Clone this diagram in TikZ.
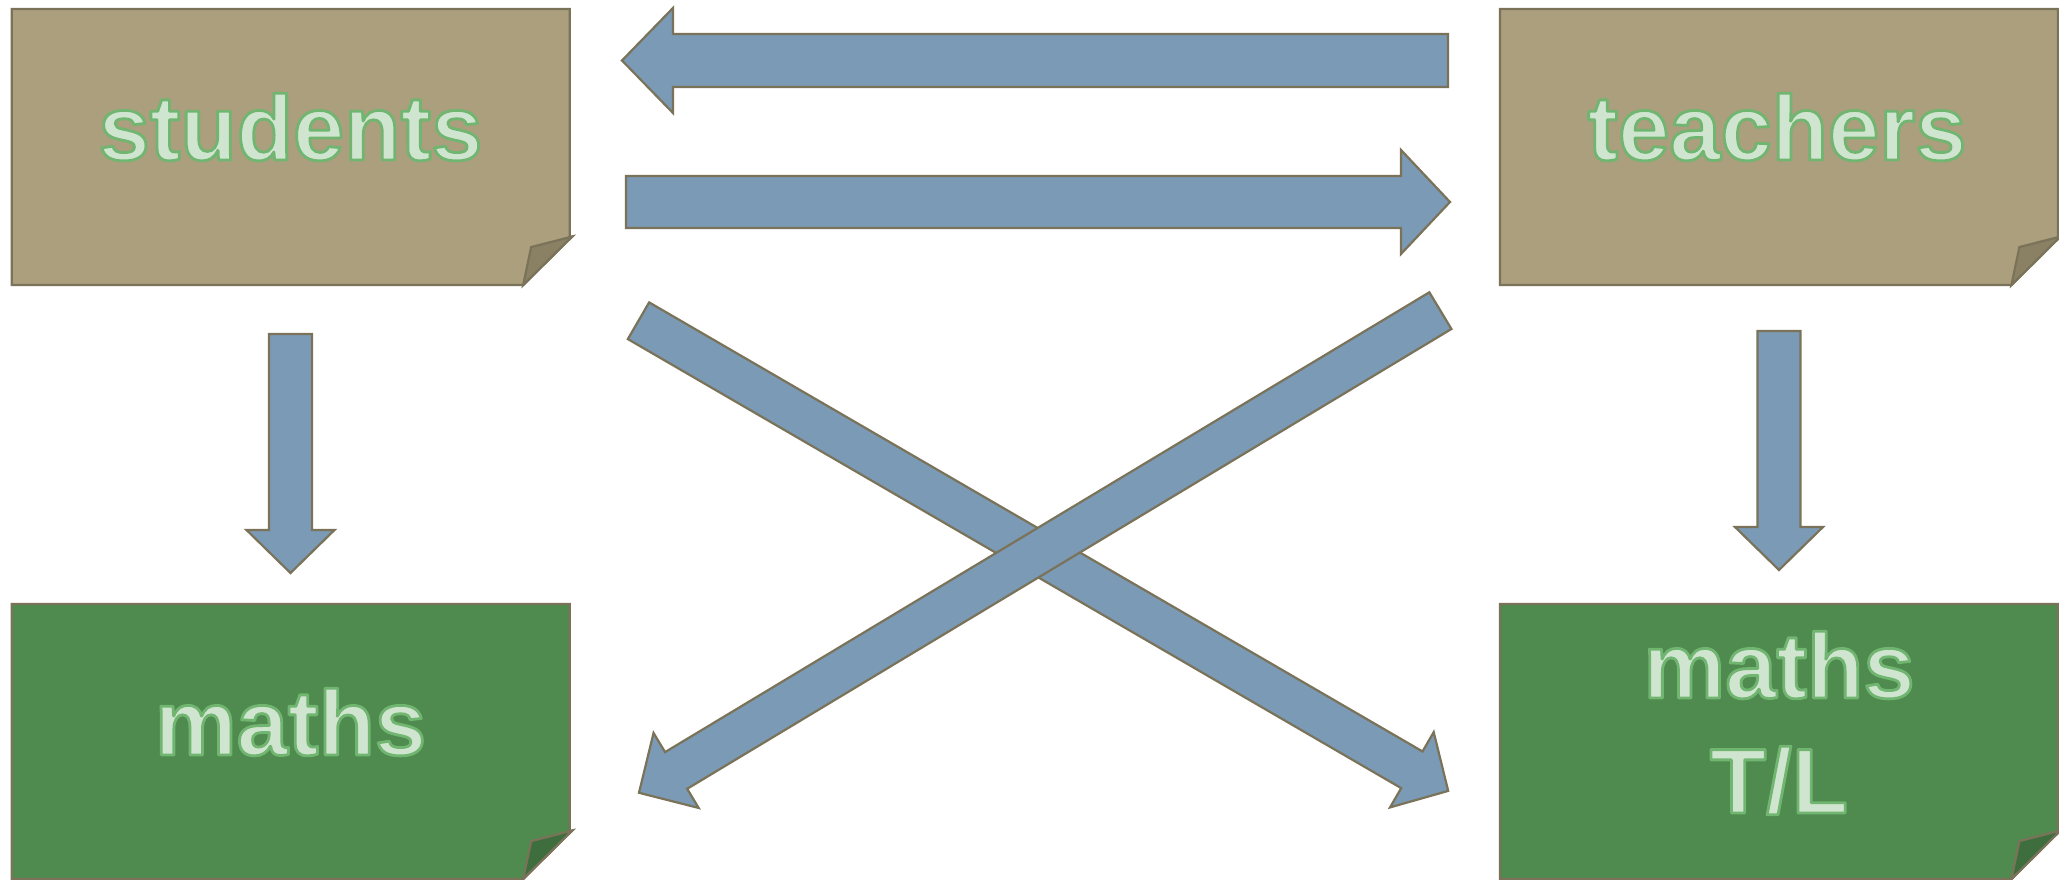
\documentclass[tikz,border=0pt]{standalone}
\usepackage{fontspec}
\setmainfont{Liberation Sans}
\newfontfamily\cardfont{Liberation Sans Bold}
\usetikzlibrary{calc}
\definecolor{tanfill}{RGB}{171,159,125}
\definecolor{tanfold}{RGB}{138,128,100}
\definecolor{edgec}{RGB}{122,115,90}
\definecolor{greenfill}{RGB}{79,138,79}
\definecolor{greenfold}{RGB}{62,110,62}
\definecolor{arrowfill}{RGB}{122,154,181}
\definecolor{txtfill}{RGB}{208,229,208}
\tikzset{
  card/.style={rectangle, minimum width=5.575cm, minimum height=2.76cm, inner sep=0pt, outer sep=0pt},
  cardedge/.style={draw=edgec, line width=0.022cm, line join=miter},
  cardtext/.style={font=\cardfont\fontsize{26.2}{32.7}\selectfont, text=txtfill, inner sep=0pt, outer sep=0pt},
  blockarrow/.style={draw=edgec, fill=arrowfill, line width=0.022cm, line join=miter},
}
% text filled in the current colour and stroked in green
\newcommand\outlined[1]{\special{pdf:code q 0.44 0.71 0.44 RG 2 Tr 0.8 w 1 j}#1\special{pdf:code Q}}
\newcommand\drawcard[3]{%
  \path[cardedge, fill=#2] (#1.north west) -- (#1.north east) -- ($(#1.south east)+(0,-48)$)
    -- ($(#1.south east)+(2.5,-48.5)$) -- ($(#1.south east)+(-46.5,0)$) -- (#1.south west) -- cycle;
  \path[cardedge, fill=#3] ($(#1.south east)+(2.5,-48.5)$) -- ($(#1.south east)+(-38.5,-38)$)
    -- ($(#1.south east)+(-46.5,0)$) -- cycle;
}
\newcommand\blockarr[5]{%
  \coordinate (neck) at ($(#2)!#5!(#1)$);
  \path[blockarrow] ($(#1)!#3!90:(#2)$) -- ($(neck)!#3!90:(#2)$) -- ($(neck)!#4!90:(#2)$)
    -- (#2) -- ($(neck)!#4!-90:(#2)$) -- ($(neck)!#3!-90:(#2)$) -- ($(#1)!#3!-90:(#2)$) -- cycle;
}
\begin{document}
\begin{tikzpicture}[x=0.01cm, y=-0.01cm]
  \fill[white] (0,0) rectangle (2059,880);
  \useasboundingbox (0,0) rectangle (2059,880);

  % cards
  \node[card] (students) at (290.75,147) {};
  \node[card] (teachers) at (1779,147) {};
  \node[card, minimum height=2.75cm] (maths) at (290.75,741.5) {};
  \node[card, minimum height=2.75cm] (mathsTL) at (1779,741.5) {};
  \drawcard{students}{tanfill}{tanfold}
  \drawcard{teachers}{tanfill}{tanfold}
  \drawcard{maths}{greenfill}{greenfold}
  \drawcard{mathsTL}{greenfill}{greenfold}

  % labels
  \node[cardtext, anchor=base] (lstudents) at (290.5,160) {\outlined{students}};
  \node[cardtext, anchor=base] (lteachers) at (1777,160) {\outlined{teachers}};
  \node[cardtext, anchor=base] (lmaths) at (290.5,755) {\outlined{maths}};
  \node[cardtext, anchor=base] (lmathsTL) at (1779,698)
    {\setlength{\tabcolsep}{0pt}\begin{tabular}[t]{c}\outlined{maths}\\\outlined{T/L}\end{tabular}};

  % arrow end points
  \coordinate (topT) at (1448,60.5);   \coordinate (topH) at (622,60.5);
  \coordinate (secT) at (626,202);     \coordinate (secH) at (1450,202);
  \coordinate (dlT) at (290.5,334);    \coordinate (dlH) at (290.5,573);
  \coordinate (drT) at (1779,331);     \coordinate (drH) at (1779,570);
  \coordinate (d1T) at (638.5,320.75); \coordinate (d1H) at (1448.2,790.9);
  \coordinate (d2T) at (1440.4,310.65);\coordinate (d2H) at (639,792.8);

  \blockarr{topT}{topH}{0.265cm}{0.525cm}{0.51cm}
  \blockarr{secT}{secH}{0.26cm}{0.52cm}{0.49cm}
  \blockarr{dlT}{dlH}{0.215cm}{0.44cm}{0.43cm}
  \blockarr{drT}{drH}{0.215cm}{0.44cm}{0.43cm}
  \blockarr{d1T}{d1H}{0.212cm}{0.435cm}{0.42cm}
  \blockarr{d2T}{d2H}{0.214cm}{0.4375cm}{0.433cm}
\end{tikzpicture}
\end{document}
